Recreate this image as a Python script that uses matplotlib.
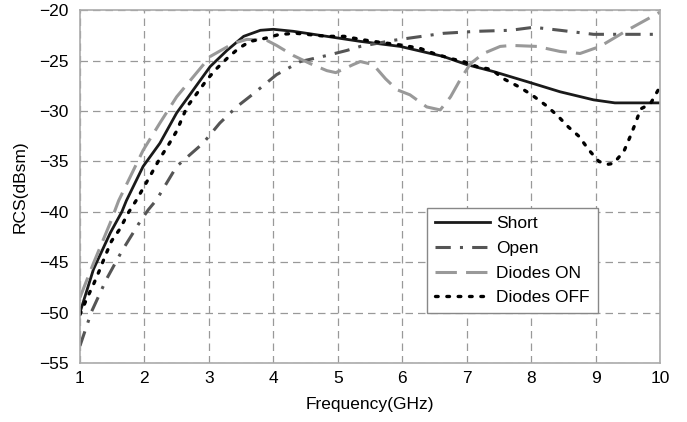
import matplotlib
matplotlib.use("Agg")
import matplotlib.pyplot as plt
import numpy as np

plt.rcParams['font.family'] = ['Liberation Sans', 'DejaVu Sans']

short_f = [1.0, 1.21, 1.47, 1.65, 1.72, 1.98, 2.24, 2.5, 2.76, 3.02, 3.28, 3.54, 3.8, 4.0, 4.31, 4.83,
           5.35, 5.97, 6.64, 7.0, 7.42, 7.94, 8.45, 8.97, 9.3, 9.85, 10.0]
short_v = [-50.0, -45.7, -42.1, -40.0, -38.9, -35.5, -33.2, -30.2, -27.9, -25.6, -24.0, -22.6, -22.0, -21.9, -22.1, -22.6,
           -23.1, -23.6, -24.6, -25.4, -26.1, -27.1, -28.1, -28.9, -29.2, -29.2, -29.2]

open_f = [1.0, 1.18, 1.41, 1.65, 1.93, 2.06, 2.19, 2.5, 2.91, 3.17, 3.43, 3.69, 4.05, 4.42, 4.83, 5.14,
          5.35, 5.86, 6.64, 7.16, 7.68, 8.04, 8.45, 8.97, 9.5, 10.0]
open_v = [-53.3, -49.9, -46.7, -43.9, -41.0, -39.8, -38.8, -35.5, -33.2, -31.2, -29.6, -28.3, -26.4, -25.1, -24.5, -24.0,
          -23.6, -23.0, -22.3, -22.1, -22.0, -21.7, -22.0, -22.4, -22.4, -22.4]

on_f = [1.0, 1.21, 1.47, 1.6, 1.98, 2.24, 2.5, 2.76, 3.02, 3.38, 3.59, 3.9, 4.05, 4.31, 4.57, 4.83, 4.97,
        5.24, 5.35, 5.55, 5.74, 5.92, 6.12, 6.38, 6.59, 6.75, 6.9, 7.06, 7.26, 7.52, 7.7, 8.09, 8.45,
        8.76, 9.07, 9.49, 10.0]
on_v = [-48.5, -45.1, -41.1, -38.9, -33.9, -31.2, -28.6, -26.6, -24.6, -23.3, -22.9, -23.0, -23.5, -24.5, -25.3, -26.0, -26.2,
        -25.4, -25.1, -25.4, -26.8, -27.9, -28.4, -29.6, -29.9, -28.6, -26.9, -25.3, -24.3, -23.6, -23.5, -23.6, -24.1,
        -24.3, -23.6, -22.0, -20.2]

off_f = [1.0, 1.1, 1.21, 1.31, 1.39, 1.49, 1.62, 1.75, 1.88, 2.11, 2.24, 2.37, 2.5, 2.66, 2.81, 2.97, 3.12,
         3.28, 3.46, 3.64, 3.87, 4.1, 4.36, 4.83, 5.1, 5.35, 5.55, 6.02, 6.28, 6.49, 6.75, 6.95, 7.16, 7.39,
         7.57, 7.81, 8.01, 8.22, 8.4, 8.58, 8.74, 8.9, 9.05, 9.18, 9.28, 9.44, 9.54, 9.62, 9.7, 9.85, 10.0]
off_v = [-50.2, -48.7, -47.2, -45.7, -44.4, -42.9, -41.7, -40.1, -38.8, -36.2, -34.7, -33.4, -32.0, -29.6, -28.3, -26.9, -25.8,
         -24.8, -23.8, -23.1, -22.8, -22.4, -22.3, -22.6, -22.6, -22.9, -23.1, -23.5, -23.8, -24.3, -24.8, -25.1, -25.6, -25.9,
         -26.8, -27.6, -28.4, -29.4, -30.4, -31.6, -32.5, -33.9, -35.0, -35.3, -35.2, -34.0, -32.5, -31.2, -29.8, -29.3, -27.6]

fig = plt.figure(figsize=(6.87, 4.22), dpi=100)
ax = fig.add_axes([0.1164, 0.1398, 0.8443, 0.8362])

ax.plot(short_f, short_v, color='#1a1a1a', lw=2.0, ls='-', label='Short')
ax.plot(open_f, open_v, color='#555555', lw=2.2, ls=(0, (5, 3, 1, 3)), label='Open')
ax.plot(on_f, on_v, color='#999999', lw=2.2, ls=(0, (7, 3)), label='Diodes ON')
ax.plot(off_f, off_v, color='#000000', lw=2.4, ls=(0, (0.8, 2.6)), dash_capstyle='round', label='Diodes OFF')

ax.set_xlim(1, 10)
ax.set_ylim(-55, -20)
ax.set_xticks(range(1, 11))
ax.set_yticks(range(-55, -19, 5))
ax.grid(True, color='#999999', ls=(0, (6, 4)), lw=0.9)
ax.tick_params(length=0, labelsize=12.5)
ax.tick_params(axis='y', pad=8)
ax.tick_params(axis='x', pad=6)
for s in ax.spines.values():
    s.set_color('#aaaaaa')
    s.set_linewidth(1.2)

ax.set_xlabel('Frequency(GHz)', fontsize=12.5, labelpad=8)
ax.set_ylabel('RCS(dBsm)', fontsize=12.5, labelpad=8)

leg = ax.legend(loc='lower left', bbox_to_anchor=(0.598, 0.141, 0.295, 0.302), mode='expand',
                fancybox=False, framealpha=1, edgecolor='#888888', fontsize=12.5,
                handlelength=3.2, handletextpad=0.35, borderpad=0.45, labelspacing=0.55, borderaxespad=0)
leg.get_frame().set_linewidth(1.0)

fig.savefig('out.png', dpi=100)
